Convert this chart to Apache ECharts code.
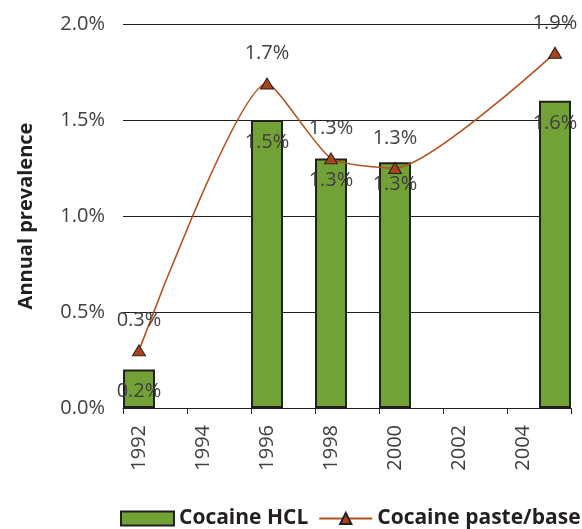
<!DOCTYPE html>
<html>
<head>
<meta charset="utf-8">
<script src="https://cdn.jsdelivr.net/npm/echarts@6/dist/echarts.min.js"></script>
<style>
html, body { margin: 0; padding: 0; background: #fff; }
#chart { width: 582px; height: 529px; }
</style>
</head>
<body>
<div id="chart"></div>
<script>
// years on the category axis, one slot per year
var years = ['1992', '1993', '1994', '1995', '1996', '1997', '1998', '1999', '2000', '2001', '2002', '2003', '2004', '2005'];
// annual prevalence, %
var hclValues = [0.2, null, null, null, 1.5, null, 1.3, null, 1.28, null, null, null, null, 1.6];
var pasteValues = [0.3, null, null, null, 1.69, null, 1.3, null, 1.25, null, null, null, null, 1.85];
var yTicks = [0, 0.5, 1.0, 1.5, 2.0];

var font = 'Open Sans';
var pct = function (v) { return v.toFixed(1) + '%'; };

var chart = echarts.init(document.getElementById('chart'));
chart.setOption({
    animation: false,
    grid: { left: 123, right: 11, top: 24, bottom: 121 },
    legend: {
        left: 120,
        top: 508,
        width: 480,
        padding: 0,
        itemWidth: 53,
        itemHeight: 14,
        itemGap: 10,
        textStyle: { fontFamily: font, fontSize: 21, fontWeight: 'bold', color: '#231f20', padding: [0, 0, 0, 0] },
        data: [
            { name: 'Cocaine HCL', icon: 'rect' },
            { name: 'Cocaine paste/base' }
        ]
    },
    xAxis: {
        type: 'category',
        data: years,
        boundaryGap: true,
        axisLine: { lineStyle: { color: '#231f20', width: 1 } },
        axisTick: { show: true, interval: 1, length: 6, lineStyle: { color: '#231f20' } },
        axisLabel: {
            interval: 1, rotate: 90, margin: 17,
            fontFamily: font, fontSize: 20, color: '#404040'
        }
    },
    yAxis: {
        type: 'value',
        min: yTicks[0],
        max: yTicks[yTicks.length - 1],
        interval: 0.5,
        name: 'Annual prevalence',
        nameLocation: 'middle',
        nameGap: 87,
        nameTextStyle: { fontFamily: font, fontSize: 20, fontWeight: 'bold', color: '#231f20' },
        axisLine: { show: false },
        axisTick: { show: false },
        splitLine: { lineStyle: { color: '#231f20', width: 1 } },
        axisLabel: {
            margin: 18, formatter: pct,
            fontFamily: font, fontSize: 20, color: '#404040'
        }
    },
    series: [
        {
            name: 'Cocaine HCL',
            type: 'bar',
            data: hclValues,
            barWidth: '100%',
            itemStyle: { color: '#72a236', borderColor: '#231f20', borderWidth: 2 },
            label: {
                show: true, position: 'insideTop', distance: 12,
                formatter: function (p) { return pct(p.value); },
                fontFamily: font, fontSize: 20, color: '#404040'
            }
        },
        {
            name: 'Cocaine paste/base',
            type: 'line',
            data: pasteValues,
            connectNulls: true,
            smooth: 0.2,
            symbol: 'triangle',
            symbolSize: [13, 11],
            z: 5,
            lineStyle: { color: '#b5501c', width: 1.6 },
            itemStyle: { color: '#a8441a', borderColor: '#231f20', borderWidth: 1 },
            label: {
                show: true, position: 'top', distance: 14,
                formatter: function (p) { return pct(p.value); },
                fontFamily: font, fontSize: 20, color: '#404040'
            }
        }
    ]
});
</script>
</body>
</html>
